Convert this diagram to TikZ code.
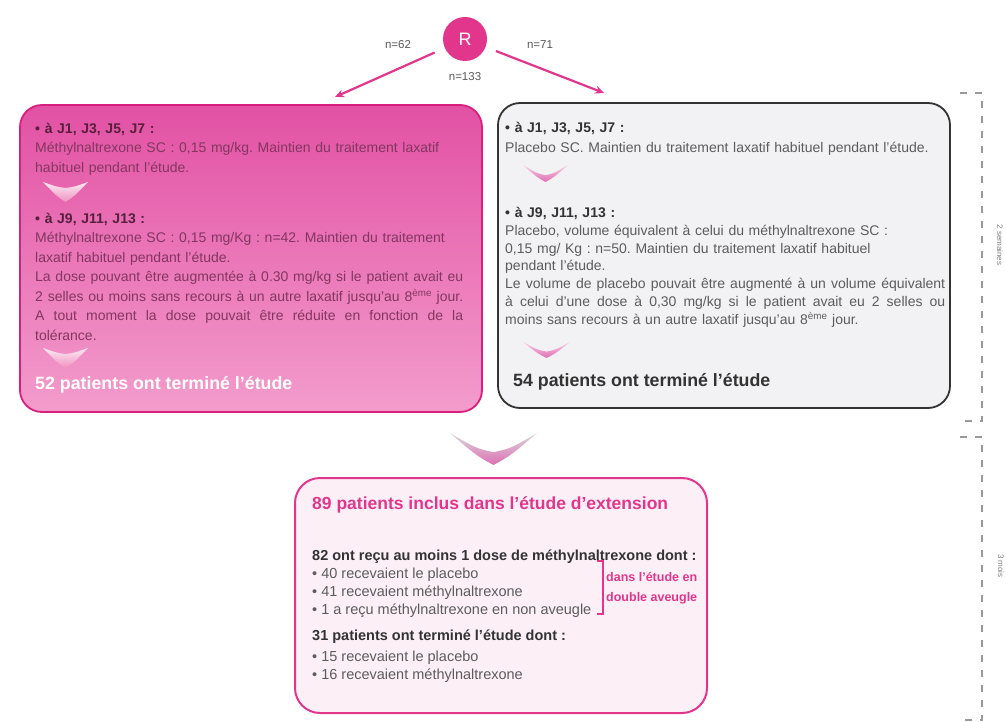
\documentclass[tikz,border=0pt]{standalone}
\usepackage{fontspec}
\setmainfont{Liberation Sans}
\usetikzlibrary{arrows.meta,positioning}

\definecolor{rose}{HTML}{E2368C}
\definecolor{roseedge}{HTML}{D81F7E}
\definecolor{roseboxtop}{HTML}{E251A4}
\definecolor{roseboxbot}{HTML}{F39CCC}
\definecolor{rosetext}{HTML}{843660}
\definecolor{rosehead}{HTML}{55203E}
\definecolor{greybox}{HTML}{F2F2F4}
\definecolor{greytext}{HTML}{5C5C5C}
\definecolor{greyhead}{HTML}{333333}
\definecolor{extfill}{HTML}{FCF0F6}
\definecolor{chevpink}{HTML}{DE6FB4}

\newcommand\jline[1]{\leavevmode\hbox to\hsize{\spaceskip=\fontdimen2\font plus 1fil\relax #1}}
\frenchspacing

\begin{document}
\begin{tikzpicture}
[
    x=1pt, y=-1pt,
    rnode/.style={circle, fill=rose, text=white, minimum size=44pt, inner sep=0pt, font=\fontsize{18}{18}\selectfont},
    nlabel/.style={text=black!65, font=\fontsize{11.5}{12}\selectfont},
    arr/.style={draw=rose, line width=2.2pt, shorten <=11pt, -{Stealth[length=9pt, width=8pt]}},
    armbox/.style={rounded corners=22pt, inner sep=0pt},
    textblock/.style={anchor=north west, inner sep=0pt, align=left},
    bodyA/.style={textblock, text=rosetext, text width=428pt, font=\fontsize{14}{19.5}\selectfont},
    bodyB/.style={textblock, text=greytext, text width=440pt, font=\fontsize{14}{17.8}\selectfont},
    bodyC/.style={textblock, text=greytext, font=\fontsize{14.5}{18}\selectfont},
    total/.style={anchor=west, inner sep=0pt, font=\bfseries\fontsize{17.8}{18}\selectfont},
    period/.style={draw=black!40, line width=2pt, dash pattern=on 7pt off 8pt},
    periodlabel/.style={rotate=-90, text=black!50, font=\fontsize{8}{8}\selectfont},
]
\useasboundingbox (0,0) rectangle (1006,722);

\node[rnode] (R) at (465,39) {R};
\node[nlabel] (n62) at (398,45) {n=62};
\node[nlabel] (n71) at (540,45) {n=71};
\node[nlabel] (n133) at (465,77) {n=133};

\node[armbox, draw=roseedge, line width=1.8pt, top color=roseboxtop, bottom color=roseboxbot,
    minimum width=462pt, minimum height=307pt] (armA) at (251,258.5) {};
\node[armbox, draw=black!80, line width=1.8pt, fill=greybox,
    minimum width=452pt, minimum height=305pt] (armB) at (724,255.5) {};
\node[armbox, draw=rose, line width=2pt, fill=extfill, rounded corners=25pt,
    minimum width=412pt, minimum height=235pt] (ext) at (501,595.5) {};

\coordinate (tipA) at (335,97);
\coordinate (tipB) at (604,93);
\draw[arr] (R) -- (tipA);
\draw[arr] (R) -- (tipB);

\foreach \cx/\cy/\cw/\ch/\cd/\ct/\cb in {65.5/182/22.5/20/0.3/white!90!rose/rose!55,
    65.5/348/22.5/20/0.3/white!90!rose/rose!55,
    545.5/165/22.5/17/0.6/rose!25/chevpink,
    546.5/342/23.5/16/0.6/rose!25/chevpink,
    493.5/433/43.5/32/0.6/white!85!black/chevpink}
    \shade[top color=\ct, bottom color=\cb]
        (\cx-\cw,\cy) .. controls (\cx-0.4*\cw,\cy+0.8*\cd*\ch) .. (\cx,\cy+\cd*\ch)
        .. controls (\cx+0.4*\cw,\cy+0.8*\cd*\ch) .. (\cx+\cw,\cy)
        .. controls (\cx+0.4*\cw,\cy+0.7*\ch) .. (\cx,\cy+\ch)
        .. controls (\cx-0.4*\cw,\cy+0.7*\ch) .. cycle;

\node[bodyA] (a1) at (35,123)
{{\color{rosehead}\bfseries • à J1, J3, J5, J7 :}\\
Méthylnaltrexone SC : 0,15 mg/kg. Maintien du traitement laxatif\\
habituel pendant l'étude.};
\node[bodyA] (a2) at (35,213)
{{\color{rosehead}\bfseries • à J9, J11, J13 :}\\
Méthylnaltrexone SC : 0,15 mg/Kg : n=42. Maintien du traitement\\
laxatif habituel pendant l'étude.\\
\jline{La dose pouvant être augmentée à 0.30 mg/kg si le patient avait eu}\\
\jline{2 selles ou moins sans recours à un autre laxatif jusqu'au 8\textsuperscript{ème} jour.}\\
\jline{A tout moment la dose pouvait être réduite en fonction de la}\\
tolérance.};
\node[total, text=white] (a3) at (35,385) {52 patients ont terminé l'étude};

\node[bodyB] (b1) at (505,122)
{{\color{greyhead}\bfseries • à J1, J3, J5, J7 :}\\[2pt]
Placebo SC. Maintien du traitement laxatif habituel pendant l'étude.};
\node[bodyB] (b2) at (505,207)
{{\color{greyhead}\bfseries • à J9, J11, J13 :}\\
Placebo, volume équivalent à celui du méthylnaltrexone SC :\\
0,15 mg/ Kg : n=50. Maintien du traitement laxatif habituel\\
pendant l'étude.\\
\jline{Le volume de placebo pouvait être augmenté à un volume équivalent}\\
\jline{à celui d'une dose à 0,30 mg/kg si le patient avait eu 2 selles ou}\\
moins sans recours à un autre laxatif jusqu'au 8\textsuperscript{ème} jour.};
\node[total, text=greyhead] (b3) at (513,382) {54 patients ont terminé l'étude};

\node[total, text=rose, font=\bfseries\fontsize{17.5}{18}\selectfont] (c0) at (312,505)
    {89 patients inclus dans l'étude d'extension};
\node[bodyC] (c1) at (312,550)
{{\color{greyhead}\bfseries 82 ont reçu au moins 1 dose de méthylnaltrexone dont :}\\
• 40 recevaient le placebo\\
• 41 recevaient méthylnaltrexone\\
• 1 a reçu méthylnaltrexone en non aveugle};
\draw[rose, line width=1.2pt] (597,561) -- (603,561) -- (603,614) -- (597,614);
\node[anchor=west, inner sep=0pt, align=left, text=rose, font=\bfseries\fontsize{12.5}{20}\selectfont]
    (blind) at (606,588) {dans l'étude en\\double aveugle};
\node[bodyC] (c2) at (312,630)
{{\color{greyhead}\bfseries 31 patients ont terminé l'étude dont :}\\[3pt]
• 15 recevaient le placebo\\
• 16 recevaient méthylnaltrexone};

\draw[period] (960,93) -- (982,93) -- (982,421) -- (960,421);
\draw[period] (960,437) -- (982,437) -- (982,720) -- (960,720);
\node[periodlabel] (weeks) at (1000,245) {2 semaines};
\node[periodlabel] (months) at (1001,566) {3 mois};
\end{tikzpicture}
\end{document}
